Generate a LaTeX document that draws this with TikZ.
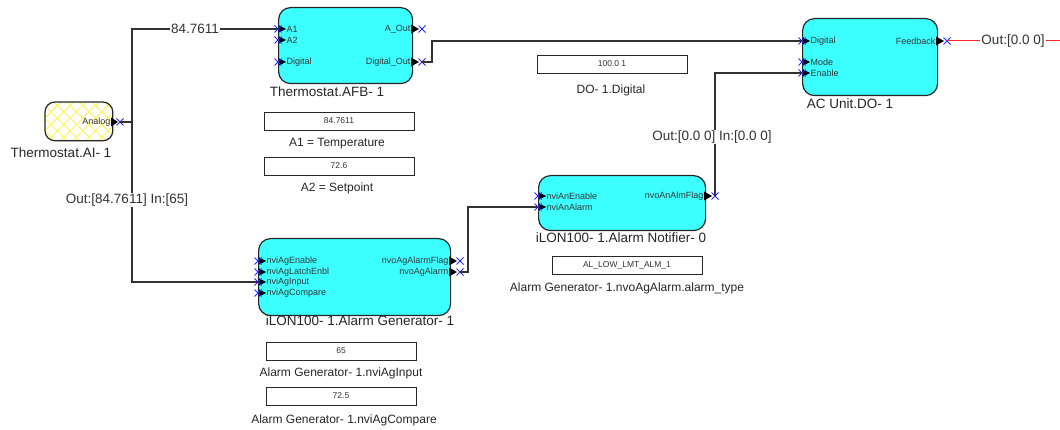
\documentclass[tikz,border=0pt]{standalone}
\usepackage{fontspec}
\setmainfont{Liberation Sans}
\usetikzlibrary{patterns.meta}
\definecolor{fbcyan}{RGB}{60,255,255}
\definecolor{wirec}{RGB}{50,50,50}
\definecolor{portblue}{RGB}{40,40,255}
\definecolor{hatchy}{RGB}{255,245,60}
\tikzset{
  fb/.style={draw=black!85, line width=1.2pt, rounded corners=12pt, fill=fbcyan, inner sep=0pt, anchor=north west},
  valbox/.style={draw=black!85, line width=0.9pt, fill=white, minimum width=150pt, minimum height=18pt, inner sep=0pt, font=\fontsize{8.5}{9}\selectfont, text=black!80},
  lbl/.style={font=\fontsize{12}{13}\selectfont, text=black!85, inner sep=1pt},
  ttl/.style={font=\fontsize{13.5}{14}\selectfont, text=black!85, inner sep=1pt},
  plab/.style={font=\fontsize{9}{9}\selectfont, text=black!80, inner sep=0.5pt},
  portx/.style={draw=portblue, line width=0.8pt},
  wire/.style={draw=wirec, line width=1.3pt},
  wlab/.style={font=\fontsize{13.5}{14}\selectfont, text=black!80, fill=white, inner sep=1pt},
}
% #1 name, #2 x, #3 y, #4 label
\newcommand\myinport[4]{%
  \coordinate (#1) at (#2,#3);
  \fill[black] (#2+1,#3-3.5) -- (#2+8,#3) -- (#2+1,#3+3.5) -- cycle;
  \node[plab,anchor=west] at (#2+8,#3) {#4};
  \draw[portx] (#2-3.5,#3-3.5) -- (#2+3.5,#3+3.5) (#2-3.5,#3+3.5) -- (#2+3.5,#3-3.5);
}
\newcommand\myoutport[4]{%
  \coordinate (#1) at (#2+10,#3);
  \fill[black] (#2-1,#3-4.5) -- (#2+7,#3) -- (#2-1,#3+4.5) -- cycle;
  \node[plab,anchor=east] at (#2-1,#3) {#4};
  \draw[portx] (#2+10-3.5,#3-3.5) -- (#2+10+3.5,#3+3.5) (#2+10-3.5,#3+3.5) -- (#2+10+3.5,#3-3.5);
}
\begin{document}
\begin{tikzpicture}[x=1pt,y=-1pt]
\useasboundingbox (0,0) rectangle (1060,430);
\fill[white] (0,0) rectangle (1060,430);

% ---------- Thermostat.AI ----------
\node[draw=none, rounded corners=10pt, anchor=north west, minimum width=67pt, minimum height=38pt, inner sep=0pt,
      pattern={Hatch[angle=45,distance=9pt,line width=0.8pt]}, pattern color=hatchy] (ai) at (45,102) {};
\draw[black!85, line width=1.2pt, rounded corners=10pt] (ai.north west) rectangle (ai.south east);
\node[ttl] (aicap) at (61,153) {Thermostat.AI- 1};
\node[plab, anchor=east] at (111,122) {Analog};
\coordinate (aiout) at (120,122);
\fill[black] (111,117.5) -- (118,122) -- (111,126.5) -- cycle;
\draw[portx] (116.5,118.5) -- (123.5,125.5) (116.5,125.5) -- (123.5,118.5);

% ---------- Thermostat.AFB ----------
\node[fb, minimum width=134pt, minimum height=76pt] (afb) at (278,7) {};
\node[ttl] (afbcap) at (327,92) {Thermostat.AFB- 1};
\myinport{afba1}{278}{29}{A1}
\myinport{afba2}{278}{40}{A2}
\myinport{afbdig}{278}{62}{Digital}
\myoutport{afbaout}{412}{29}{A\_Out}
\myoutport{afbdout}{412}{62}{Digital\_Out}

\node[valbox] (v1) at (339,121) {84.7611};
\node[lbl] (v1cap) at (337,144) {A1 = Temperature};
\node[valbox] (v2) at (339,166) {72.6};
\node[lbl] (v2cap) at (337,188) {A2 = Setpoint};

% ---------- AC Unit.DO ----------
\node[fb, minimum width=135pt, minimum height=77pt] (ac) at (802,18) {};
\node[ttl] (accap) at (850,104) {AC Unit.DO- 1};
\myinport{acdig}{802}{41}{Digital}
\myinport{acmode}{802}{62}{Mode}
\myinport{acen}{802}{73}{Enable}
\myoutport{acfb}{937}{41}{Feedback}

\node[valbox] (v3) at (612,64) {100.0 1};
\node[lbl] (v3cap) at (611,90) {DO- 1.Digital};

% ---------- Alarm Notifier ----------
\node[fb, minimum width=167pt, minimum height=55pt] (an) at (538,175) {};
\node[ttl] (ancap) at (621,238) {iLON100- 1.Alarm Notifier- 0};
\myinport{anen}{538}{196}{nviAnEnable}
\myinport{analarm}{538}{207}{nviAnAlarm}
\myoutport{anflag}{705}{196}{nvoAnAlmFlag}

\node[valbox] (v4) at (627,265) {AL\_LOW\_LMT\_ALM\_1};
\node[lbl] (v4cap) at (627,288) {Alarm Generator- 1.nvoAgAlarm.alarm\_type};

% ---------- Alarm Generator ----------
\node[fb, minimum width=192pt, minimum height=77pt] (ag) at (258,238) {};
\node[ttl] (agcap) at (360,321) {iLON100- 1.Alarm Generator- 1};
\myinport{agen}{258}{261}{nviAgEnable}
\myinport{aglatch}{258}{272}{nviAgLatchEnbl}
\myinport{aginput}{258}{282}{nviAgInput}
\myinport{agcomp}{258}{293}{nviAgCompare}
\myoutport{agflag}{450}{261}{nvoAgAlarmFlag}
\myoutport{agalarm}{450}{272}{nvoAgAlarm}

\node[valbox] (v5) at (341,351) {65};
\node[lbl] (v5cap) at (341,373) {Alarm Generator- 1.nviAgInput};
\node[valbox] (v6) at (341,396) {72.5};
\node[lbl] (v6cap) at (344,420) {Alarm Generator- 1.nviAgCompare};

% ---------- wires ----------
\coordinate (j1) at (132,122);
\draw[wire] (aiout) -- (j1) |- (afba1) node[wlab, pos=0.716] {84.7611};
\draw[wire] (j1) |- (aginput);
\node[wlab] at (127,200) {Out:[84.7611] In:[65]};

\draw[wire] (afbdout) -- ++(10,0) |- (acdig);
\draw[wire] (anflag) |- (acen);
\node[wlab] at (712,137) {Out:[0.0 0] In:[0.0 0]};
\draw[wire] (agalarm) -- ++(8,0) |- (analarm);

\coordinate (fbend) at (1060,41);
\draw[red!85, line width=1pt] (acfb) -- (fbend);
\node[wlab] at (1013,41) {Out:[0.0 0]};
\end{tikzpicture}
\end{document}
